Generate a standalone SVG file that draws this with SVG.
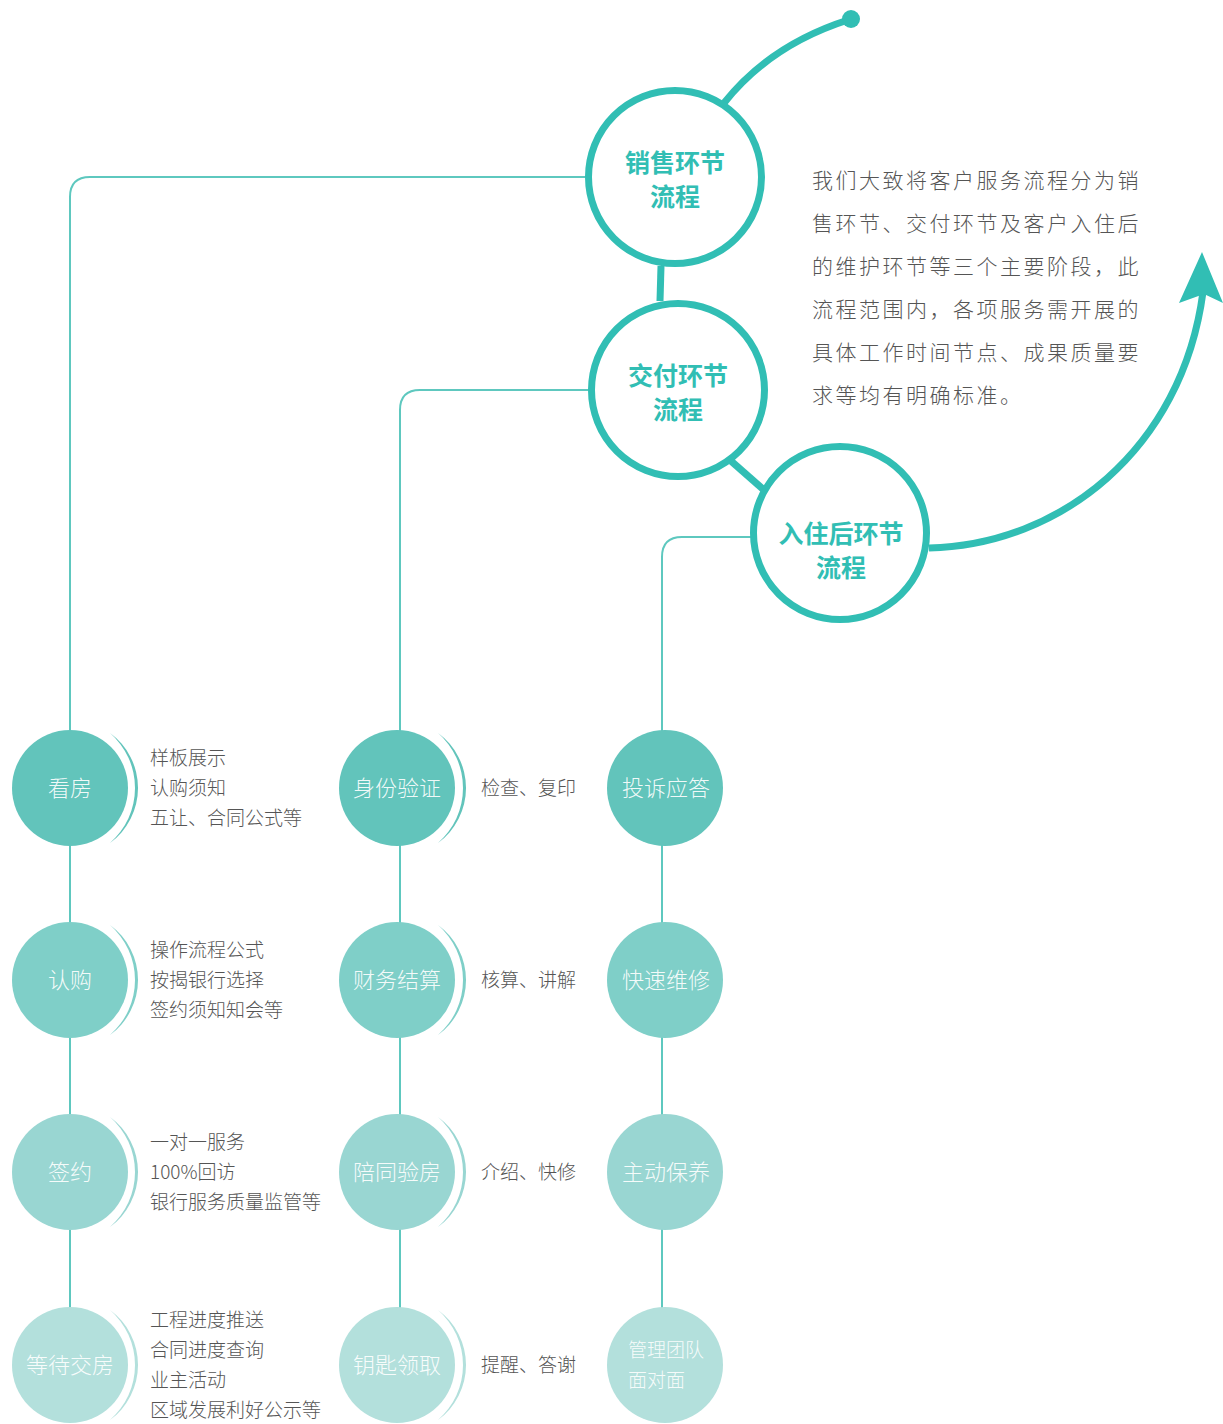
<svg xmlns="http://www.w3.org/2000/svg" width="1223" height="1424" viewBox="0 0 1223 1424">
<style>
.thin{fill:none;stroke:#5ec8bf;stroke-width:2}
.thick{fill:none;stroke:#31beb4;stroke-width:7;stroke-linecap:butt}
.big{fill:#fff;stroke:#31beb4;stroke-width:7}
.bigt{font-family:"Noto Sans CJK SC","Noto Sans",sans-serif;font-size:25px;font-weight:700;fill:#31beb4;text-anchor:middle}
.ct{font-family:"Noto Sans CJK SC","Noto Sans",sans-serif;font-size:22px;font-weight:300;fill:#fff;fill-opacity:0.92;text-anchor:middle}
.ct2{font-family:"Noto Sans CJK SC","Noto Sans",sans-serif;font-size:19px;font-weight:300;fill:#fff;fill-opacity:0.9}
.st{font-family:"Noto Sans CJK SC","Noto Sans",sans-serif;font-size:19px;font-weight:300;fill:#555}
.para{font-family:"Noto Sans CJK SC","Noto Sans",sans-serif;font-size:21px;font-weight:300;fill:#555;letter-spacing:2.5px}
.r1{fill:#62c4bb}.r2{fill:#7fcfc8}.r3{fill:#99d6d2}.r4{fill:#b3e0dc}
</style>
<g id="connectors">
  <path class="thin" d="M585 177 H90 Q70 177 70 197 V1365"/>
  <path class="thin" d="M588 390 H420 Q400 390 400 410 V1365"/>
  <path class="thin" d="M751 537 H682 Q662 537 662 557 V1365"/>
  <path class="thick" d="M661 266 L660 301"/>
  <path class="thick" d="M731 461 L764 490"/>
  <path class="thick" d="M724 103 Q770 45 848 20"/>
  <circle cx="851" cy="19" r="9" fill="#31beb4"/>
  <path class="thick" d="M929 548 C1060 545 1182 450 1203 292"/>
  <polygon points="1202,252 1223,303 1204,294 1179,303" fill="#31beb4"/>
</g>
<g id="sales"><circle class="big" cx="675" cy="177" r="86.5"/><text class="bigt" x="675" y="172">销售环节</text><text class="bigt" x="675" y="206">流程</text></g>
<g id="delivery"><circle class="big" cx="678" cy="390" r="86.5"/><text class="bigt" x="678" y="385">交付环节</text><text class="bigt" x="678" y="419">流程</text></g>
<g id="checkin"><circle class="big" cx="840" cy="533" r="86.5"/><text class="bigt" x="841" y="543">入住后环节</text><text class="bigt" x="841" y="577">流程</text></g>
<g id="desc">
  <text class="para" x="812" y="188">我们大致将客户服务流程分为销</text>
  <text class="para" x="812" y="231">售环节、交付环节及客户入住后</text>
  <text class="para" x="812" y="274">的维护环节等三个主要阶段，此</text>
  <text class="para" x="812" y="317">流程范围内，各项服务需开展的</text>
  <text class="para" x="812" y="360">具体工作时间节点、成果质量要</text>
  <text class="para" x="812" y="403">求等均有明确标准。</text>
</g>
<!-- column 1 -->
<g id="kanfang"><circle class="r1" cx="70" cy="788" r="58"/><text class="ct" x="70" y="796">看房</text>
  <path class="r1" d="M110 733 A68 68 0 0 1 110 843 A73 73 0 0 0 110 733 Z"/>
  <text class="st" x="150" y="765">样板展示</text><text class="st" x="150" y="795">认购须知</text><text class="st" x="150" y="825">五让、合同公式等</text></g>
<g id="rengou"><circle class="r2" cx="70" cy="980" r="58"/><text class="ct" x="70" y="988">认购</text>
  <path class="r2" d="M110 925 A68 68 0 0 1 110 1035 A73 73 0 0 0 110 925 Z"/>
  <text class="st" x="150" y="957">操作流程公式</text><text class="st" x="150" y="987">按揭银行选择</text><text class="st" x="150" y="1017">签约须知知会等</text></g>
<g id="qianyue"><circle class="r3" cx="70" cy="1172" r="58"/><text class="ct" x="70" y="1180">签约</text>
  <path class="r3" d="M110 1117 A68 68 0 0 1 110 1227 A73 73 0 0 0 110 1117 Z"/>
  <text class="st" x="150" y="1149">一对一服务</text><text class="st" x="150" y="1179">100%回访</text><text class="st" x="150" y="1209">银行服务质量监管等</text></g>
<g id="dengdai"><circle class="r4" cx="70" cy="1365" r="58"/><text class="ct" x="70" y="1373">等待交房</text>
  <path class="r4" d="M110 1310 A68 68 0 0 1 110 1420 A73 73 0 0 0 110 1310 Z"/>
  <text class="st" x="150" y="1327">工程进度推送</text><text class="st" x="150" y="1357">合同进度查询</text><text class="st" x="150" y="1387">业主活动</text><text class="st" x="150" y="1417">区域发展利好公示等</text></g>
<!-- column 2 -->
<g id="shenfen"><circle class="r1" cx="397" cy="788" r="58"/><text class="ct" x="397" y="796">身份验证</text>
  <path class="r1" d="M438 733 A68 68 0 0 1 438 843 A73 73 0 0 0 438 733 Z"/>
  <text class="st" x="481" y="795">检查、复印</text></g>
<g id="caiwu"><circle class="r2" cx="397" cy="980" r="58"/><text class="ct" x="397" y="988">财务结算</text>
  <path class="r2" d="M438 925 A68 68 0 0 1 438 1035 A73 73 0 0 0 438 925 Z"/>
  <text class="st" x="481" y="987">核算、讲解</text></g>
<g id="peitong"><circle class="r3" cx="397" cy="1172" r="58"/><text class="ct" x="397" y="1180">陪同验房</text>
  <path class="r3" d="M438 1117 A68 68 0 0 1 438 1227 A73 73 0 0 0 438 1117 Z"/>
  <text class="st" x="481" y="1179">介绍、快修</text></g>
<g id="yaoshi"><circle class="r4" cx="397" cy="1365" r="58"/><text class="ct" x="397" y="1373">钥匙领取</text>
  <path class="r4" d="M438 1310 A68 68 0 0 1 438 1420 A73 73 0 0 0 438 1310 Z"/>
  <text class="st" x="481" y="1372">提醒、答谢</text></g>
<!-- column 3 -->
<g id="tousu"><circle class="r1" cx="665" cy="788" r="58"/><text class="ct" x="666" y="796">投诉应答</text></g>
<g id="kuaisu"><circle class="r2" cx="665" cy="980" r="58"/><text class="ct" x="666" y="988">快速维修</text></g>
<g id="zhudong"><circle class="r3" cx="665" cy="1172" r="58"/><text class="ct" x="666" y="1180">主动保养</text></g>
<g id="guanli"><circle class="r4" cx="665" cy="1365" r="58"/><text class="ct2" x="628" y="1357">管理团队</text><text class="ct2" x="628" y="1387">面对面</text></g>
</svg>
